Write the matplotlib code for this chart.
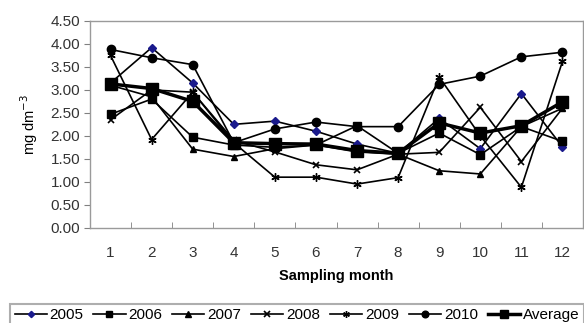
import matplotlib
matplotlib.use("Agg")
import matplotlib.pyplot as plt
from matplotlib.ticker import FixedLocator, NullFormatter

plt.rcParams['font.family'] = ['Liberation Sans', 'DejaVu Sans']

months = [1, 2, 3, 4, 5, 6, 7, 8, 9, 10, 11, 12]
y2005 = [3.15, 3.92, 3.15, 2.25, 2.32, 2.10, 1.82, 1.62, 2.38, 1.72, 2.92, 1.76]
y2006 = [2.47, 2.80, 1.97, 1.80, 1.75, 1.80, 2.22, 1.62, 2.06, 1.59, 2.20, 1.88]
y2007 = [3.10, 2.85, 1.71, 1.55, 1.72, 1.80, 1.65, 1.60, 1.24, 1.17, 2.20, 2.60]
y2008 = [2.35, 3.00, 2.95, 1.90, 1.65, 1.37, 1.26, 1.60, 1.64, 2.62, 1.44, 2.60]
y2009 = [3.75, 1.92, 2.95, 1.85, 1.10, 1.10, 0.95, 1.09, 3.28, 2.00, 0.88, 3.62]
y2010 = [3.88, 3.70, 3.55, 1.85, 2.15, 2.30, 2.20, 2.20, 3.12, 3.30, 3.72, 3.82]
yavg  = [3.13, 3.03, 2.75, 1.85, 1.83, 1.82, 1.68, 1.62, 2.28, 2.06, 2.22, 2.74]

yticks = [0.0, 0.5, 1.0, 1.5, 2.0, 2.5, 3.0, 3.5, 4.0, 4.5]

fig = plt.figure(figsize=(5.84, 3.23), dpi=100)
ax = fig.add_axes([90/584, 1 - 227.7/323, (583 - 90)/584, (227.7 - 21)/323])

series = [
    ("2005", y2005, dict(marker='D', color='black', mfc='#1a1a8c', mec='#1a1a8c', ms=4, lw=1.2)),
    ("2006", y2006, dict(marker='s', color='black', ms=5.5, lw=1.2)),
    ("2007", y2007, dict(marker='^', color='black', ms=5, lw=1.2)),
    ("2008", y2008, dict(marker='x', color='black', ms=5, mew=1.2, lw=1.2)),
    ("2009", y2009, dict(marker=(6, 2, 0), color='black', ms=6, mew=1.0, lw=1.2)),
    ("2010", y2010, dict(marker='o', color='black', ms=6, lw=1.2)),
    ("Average", yavg, dict(marker='s', color='black', ms=8, lw=2.5)),
]
handles = []
for name, ys, kw in series:
    h, = ax.plot(months, ys, label=name, **kw)
    handles.append(h)

ax.set_xlim(0.5, 12.5)
ax.set_ylim(0, 4.5)
ax.set_yticks(yticks)
ax.set_yticklabels([f"{v:.2f}" for v in yticks])
ax.set_xticks(months)
ax.set_xticklabels([str(m) for m in months])
ax.xaxis.set_minor_locator(FixedLocator([m + 0.5 for m in range(0, 13)]))
ax.xaxis.set_minor_formatter(NullFormatter())
ax.tick_params(axis='x', which='major', length=0, pad=13, labelsize=11, colors='#333333')
ax.tick_params(axis='x', which='minor', length=4, color='#808080', direction='in')
ax.tick_params(axis='y', length=4, color='#808080', labelsize=11, labelcolor='#333333',
               direction='out', pad=3)
for s in ax.spines.values():
    s.set_color('#9a9a9a')
    s.set_linewidth(1.0)

ax.set_xlabel("Sampling month", fontsize=10.5, fontweight='bold', labelpad=7)
ax.set_ylabel("mg dm$^{-3}$", fontsize=10.5, labelpad=8)

leg = fig.legend(handles=handles, loc='lower left', bbox_to_anchor=(10/584, -4/323, 574/584, 32/323),
                 ncol=7, mode='expand', frameon=True, fontsize=11, handlelength=2.1,
                 handletextpad=0.2, columnspacing=0.4, borderpad=0.3, fancybox=False,
                 markerscale=0.8, borderaxespad=0.0)
leg.get_frame().set_edgecolor('#9a9a9a')
leg.get_frame().set_linewidth(1.5)

fig.savefig("out.png", dpi=100)
